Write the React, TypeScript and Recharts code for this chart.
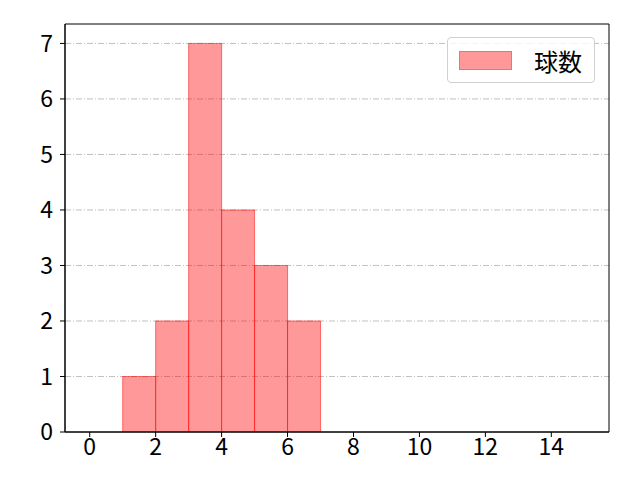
import { Bar, BarChart, CartesianGrid, ReferenceArea, XAxis, YAxis } from "recharts";

// histogram bins (left edge .. left edge + 1)
const binStarts = [0, 1, 2, 3, 4, 5, 6, 7, 8, 9, 10, 11, 12, 13, 14];
const counts = [0, 1, 2, 7, 4, 3, 2, 0, 0, 0, 0, 0, 0, 0, 0];
const xTicks = [0, 2, 4, 6, 8, 10, 12, 14];
const yTicks = [0, 1, 2, 3, 4, 5, 6, 7];

const data = binStarts.map((s, i) => ({ x: s + 0.5, value: counts[i] || null }));

const font = "'Noto Sans CJK JP', 'Noto Sans', sans-serif";

export default function App() {
  return (
    <div style={{ position: "absolute", top: 0, left: 0, width: 640, height: 480, background: "#fff" }}>
      <BarChart
        width={640}
        height={480}
        data={data}
        margin={{ top: 24, right: 31, left: 0, bottom: 0 }}
        barCategoryGap={0}
        barGap={0}
      >
        <CartesianGrid
          vertical={false}
          stroke="#b0b0b0"
          strokeDasharray="6 2 1 2"
          strokeWidth={0.8}
          horizontalValues={yTicks.slice(1)}
        />
        <XAxis
          dataKey="x"
          type="number"
          domain={[-0.75, 15.75]}
          ticks={xTicks}
          allowDataOverflow
          height={48}
          stroke="#000"
          tickSize={5}
          tick={{ fill: "#000", fontSize: 23, fontFamily: font }}
          tickMargin={2}
        />
        <YAxis
          domain={[0, 7.35]}
          ticks={yTicks}
          allowDataOverflow
          width={65}
          stroke="#000"
          tickSize={5}
          tick={{ fill: "#000", fontSize: 23, fontFamily: font }}
          tickMargin={7}
        />
        <Bar
          dataKey="value"
          name="球数"
          fill="#ff0000"
          fillOpacity={0.4}
          stroke="#ff0000"
          strokeOpacity={0.5}
          strokeWidth={1}
          isAnimationActive={false}
        />
        <ReferenceArea
          x1={-0.75}
          x2={15.75}
          y1={0}
          y2={7.35}
          fill="none"
          stroke="#000"
          strokeWidth={1}
          ifOverflow="visible"
        />
      </BarChart>
      <div
        style={{
          position: "absolute",
          top: 37,
          left: 447,
          width: 148,
          height: 46,
          border: "1px solid #d0d0d0",
          borderRadius: 4,
          background: "rgba(255,255,255,0.8)",
          display: "flex",
          alignItems: "center",
          fontFamily: font,
          fontSize: 24,
          color: "#000",
          boxSizing: "border-box",
        }}
      >
        <span
          style={{
            display: "inline-block",
            width: 53,
            height: 19,
            marginLeft: 11,
            background: "rgba(255,0,0,0.4)",
            border: "1px solid rgba(255,0,0,0.3)",
            boxSizing: "border-box",
          }}
        />
        <span style={{ marginLeft: 22 }}>球数</span>
      </div>
    </div>
  );
}
